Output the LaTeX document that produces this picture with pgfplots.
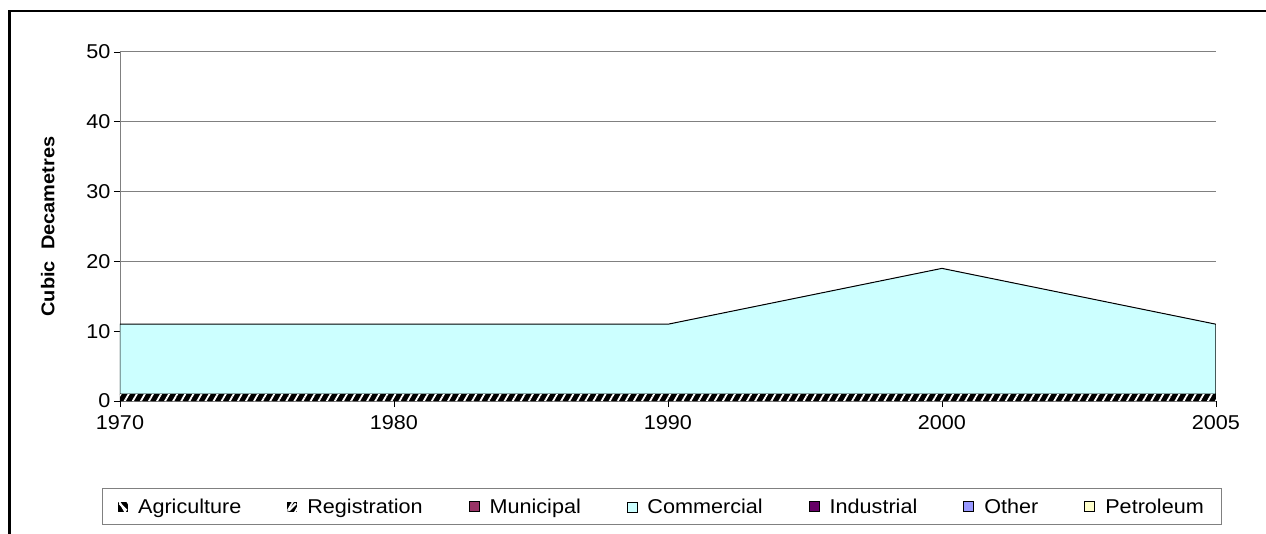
\documentclass[border=0pt]{standalone}
\usepackage{pgfplots}
\pgfplotsset{compat=1.18}
\usepackage{fontspec}
\setmainfont[FakeStretch=1.08]{Liberation Sans}
\usetikzlibrary{patterns,patterns.meta}
\definecolor{commc}{HTML}{CCFFFF}
\definecolor{munic}{HTML}{993366}
\definecolor{indc}{HTML}{660066}
\definecolor{othc}{HTML}{9999FF}
\definecolor{petc}{HTML}{FFFFCC}
\definecolor{gridc}{HTML}{808080}
\begin{document}
\begin{tikzpicture}
\useasboundingbox (-120pt,-132pt) rectangle (1146pt,401pt);
\draw[line width=2.5pt] (-110.5pt,-140pt) -- (-110.5pt,390pt) -- (1150pt,390pt);
\begin{axis}[
  at={(0pt,0pt)}, anchor=south west,
  scale only axis, width=1096pt, height=349pt,
  xmin=0, xmax=4, ymin=0, ymax=50,
  xtick={0,1,2,3,4}, xticklabels={1970,1980,1990,2000,2005},
  ytick={0,10,20,30,40,50},
  axis x line=bottom, axis y line=left,
  axis line style={-, gridc, line width=0.8pt},
  x axis line style={draw=none},
  tick style={black, line width=0.6pt},
  xtick align=outside, ytick align=outside,
  major tick length=6pt,
  ymajorgrids, grid style={gridc, line width=1pt},
  tick label style={font=\fontsize{20}{23}\selectfont},
  /pgf/number format/assume math mode=true,
  xticklabel style={yshift=-5pt},
  ylabel={Cubic\ \ Decametres},
  ylabel style={font=\fontsize{18.5}{21}\selectfont\bfseries, at={(axis description cs:-0.066,0.5)}, anchor=center},
  stack plots=y,
  legend columns=7,
  legend style={at={(axis description cs:0.4945,-0.3037)}, anchor=center,
    draw=gridc, line width=1pt, font=\fontsize{20}{23}\selectfont,
    inner xsep=16pt, inner ysep=8pt,
    /tikz/every odd column/.append style={column sep=8pt},
    /tikz/every even column/.append style={column sep=44pt}},
  legend image code/.code={\draw[#1, line width=0.6pt] (0pt,-5pt) rectangle (10pt,5pt);},
]
\addplot[draw=none, fill=black, postaction={pattern={Lines[angle=-60, distance=7pt, line width=1.8pt]}, pattern color=white}, legend image code/.code={\fill[black] (0pt,-5pt) rectangle (10pt,5pt); \draw[white, line width=2pt] (1.5pt,3.5pt) -- (8.5pt,-3.5pt);}] coordinates {(0,0) (1,0) (2,0) (3,0) (4,0)} \closedcycle;
\addlegendentry{Agriculture}
\addplot[draw=none, fill=black, postaction={pattern={Lines[angle=60, distance=7pt, line width=1.8pt]}, pattern color=white}, legend image code/.code={\fill[black] (0pt,-5pt) rectangle (10pt,5pt); \draw[white, line width=2pt] (1.5pt,-3.5pt) -- (8.5pt,3.5pt);}] coordinates {(0,1) (1,1) (2,1) (3,1) (4,1)} \closedcycle;
\addlegendentry{Registration}
\addplot[draw=none, fill=munic, legend image code/.code={\draw[fill=munic] (0pt,-5pt) rectangle (10pt,5pt);}] coordinates {(0,0) (1,0) (2,0) (3,0) (4,0)} \closedcycle;
\addlegendentry{Municipal}
\addplot[draw=black, line width=1pt, fill=commc, legend image code/.code={\draw[fill=commc, line width=0.6pt] (0pt,-5pt) rectangle (10pt,5pt);}] coordinates {(0,10) (1,10) (2,10) (3,18) (4,10)} \closedcycle;
\addlegendentry{Commercial}
\addplot[draw=none, fill=indc, legend image code/.code={\draw[fill=indc] (0pt,-5pt) rectangle (10pt,5pt);}] coordinates {(0,0) (1,0) (2,0) (3,0) (4,0)} \closedcycle;
\addlegendentry{Industrial}
\addplot[draw=none, fill=othc, legend image code/.code={\draw[fill=othc] (0pt,-5pt) rectangle (10pt,5pt);}] coordinates {(0,0) (1,0) (2,0) (3,0) (4,0)} \closedcycle;
\addlegendentry{Other}
\addplot[draw=none, fill=petc, legend image code/.code={\draw[fill=petc] (0pt,-5pt) rectangle (10pt,5pt);}] coordinates {(0,0) (1,0) (2,0) (3,0) (4,0)} \closedcycle;
\addlegendentry{Petroleum}
\end{axis}
\end{tikzpicture}
\end{document}
